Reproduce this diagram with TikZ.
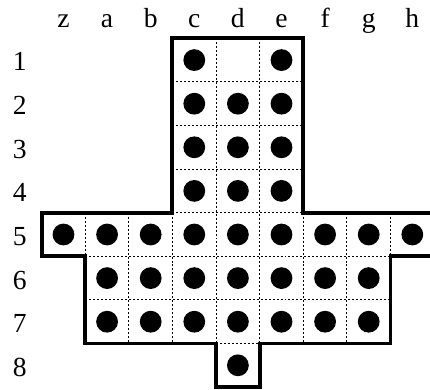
\documentclass[tikz,border=0pt]{standalone}
\usepackage{fontspec}
\setmainfont{Liberation Serif}
\begin{document}
\begin{tikzpicture}[x=1cm,y=1cm,
  outline/.style={line width=2.6pt,line join=miter},
  gridline/.style={line width=0.6pt,dash pattern=on 1.3pt off 1.3pt},
  peg/.style={circle,fill=black,minimum size=0.5cm,inner sep=0pt},
  lbl/.style={anchor=base,inner sep=0pt,font=\fontsize{18}{21}\selectfont}]
\useasboundingbox (-0.956,-8.044) rectangle (8.906,0.878);
% dotted interior lines
\foreach \y in {-1,-2,-3,-4} \draw[gridline] (3,\y) -- (6,\y);
\foreach \y in {-5,-6} \draw[gridline] (1,\y) -- (8,\y);
\draw[gridline] (4,-7) -- (5,-7);
\foreach \x in {4,5} \draw[gridline] (\x,0) -- (\x,-7);
\foreach \x in {2,3,6,7} \draw[gridline] (\x,-4) -- (\x,-7);
\foreach \x in {1,8} \draw[gridline] (\x,-4) -- (\x,-5);
% outline
\draw[outline] (3,0) -- (6,0) -- (6,-4) -- (9,-4) -- (9,-5) -- (8,-5) -- (8,-7)
  -- (5,-7) -- (5,-8) -- (4,-8) -- (4,-7) -- (1,-7) -- (1,-5) -- (0,-5) -- (0,-4)
  -- (3,-4) -- cycle;
% column labels
\foreach \l [count=\i from 0] in {z,a,b,c,d,e,f,g,h}
  \node[lbl] (col\l) at (\i+0.5,0.236) {\l};
% row labels
\foreach \r in {1,...,8}
  \node[lbl] (row\r) at (-0.5,-\r+0.25) {\r};
% pegs
\foreach \c in {3,4,5} \foreach \r in {2,3,4}
  \node[peg] (p\c-\r) at (\c+0.5,-\r+0.5) {};
\node[peg] (p3-1) at (3.5,-0.5) {};
\node[peg] (p5-1) at (5.5,-0.5) {};
\foreach \c in {0,...,8} \node[peg] (p\c-5) at (\c+0.5,-4.5) {};
\foreach \c in {1,...,7} \foreach \r in {6,7}
  \node[peg] (p\c-\r) at (\c+0.5,-\r+0.5) {};
\node[peg] (p4-8) at (4.5,-7.5) {};
\end{tikzpicture}
\end{document}
